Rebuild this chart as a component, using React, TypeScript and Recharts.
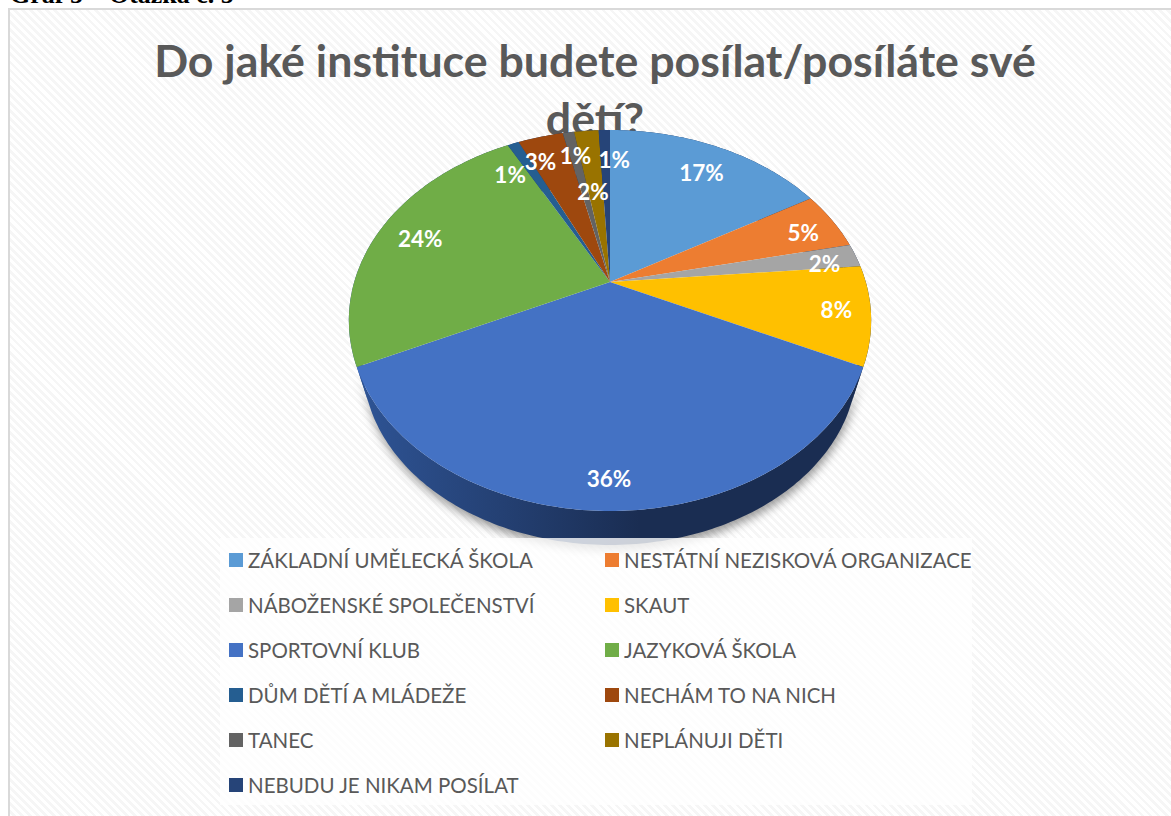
import { Legend, Pie, PieChart } from 'recharts'

const names = [
  'ZÁKLADNÍ UMĚLECKÁ ŠKOLA',
  'NESTÁTNÍ NEZISKOVÁ ORGANIZACE',
  'NÁBOŽENSKÉ SPOLEČENSTVÍ',
  'SKAUT',
  'SPORTOVNÍ KLUB',
  'JAZYKOVÁ ŠKOLA',
  'DŮM DĚTÍ A MLÁDEŽE',
  'NECHÁM TO NA NICH',
  'TANEC',
  'NEPLÁNUJI DĚTI',
  'NEBUDU JE NIKAM POSÍLAT',
]
const shares = [16.6, 5, 2, 8.4, 36, 24.2, 0.85, 3.4, 0.85, 1.85, 0.85]
const colors = ['#5B9BD5', '#ED7D31', '#A5A5A5', '#FFC000', '#4472C4', '#70AD47', '#255E91', '#9E480E', '#636363', '#997300', '#264478']

// excel moved some of the crowded labels: [radius factor, dx, dy]
const labelTweaks = [[0.8, 2, 2], [0.8, 13, 1], [0.8, 17, 3], [0.8, 19, 1], [0.88, -1, 1], [0.8, -5, 0], [0.8, -20, 7], [0.8, -12, -1], [0.8, 0, -3], [0.5, -4, -8], [0.8, 9, 3]]

const data = names.map((name, i) => ({ name, value: shares[i], fill: colors[i] }))

const cx = 610
const cy = 282
const ry = 182.7
const xStretch = 1.4
const persp = 0.202
const vanishY = 1136
const wallScale = 0.9456

// unit disc point (r, clockwise angle from top) -> screen, with the excel perspective
function project(r: number, deg: number) {
  const t = (deg * Math.PI) / 180
  const w = 1 + persp * r * Math.cos(t)
  return {
    x: cx + (ry * xStretch * r * Math.sin(t)) / w,
    y: cy - (ry * r * Math.cos(t)) / w,
  }
}

function arcPoints(startAngle: number, endAngle: number) {
  const from = 90 - startAngle
  const to = 90 - endAngle
  const steps = Math.max(2, Math.ceil(Math.abs(to - from)))
  const pts = []
  for (let i = 0; i <= steps; i++) pts.push(project(1, from + ((to - from) * i) / steps))
  return pts
}

const toPath = (pts: { x: number; y: number }[]) =>
  pts.map((p, i) => `${i ? 'L' : 'M'}${p.x.toFixed(1)} ${p.y.toFixed(1)}`).join(' ') + ' Z'

function TopSlice(props: any) {
  const pts = [{ x: cx, y: cy }, ...arcPoints(props.startAngle, props.endAngle)]
  return <path d={toPath(pts)} fill={props.fill} stroke="none" />
}

function WallSlice(props: any) {
  const top = arcPoints(props.startAngle, props.endAngle)
  const bottom = top.map((p) => ({ x: cx + (p.x - cx) * wallScale, y: vanishY + (p.y - vanishY) * wallScale }))
  const front = Math.sin((props.midAngle * Math.PI) / 180) < -0.5
  return (
    <path
      d={toPath([...top, ...bottom.reverse()])}
      fill="url(#wallFill)"
      stroke="none"
      style={front ? { filter: 'drop-shadow(1px 5px 5px rgba(0,0,0,0.4))' } : undefined}
    />
  )
}

function percentLabel(props: any) {
  const [rf, dx, dy] = labelTweaks[props.index]
  const p = project(rf, 90 - props.midAngle)
  return (
    <text
      x={p.x + dx}
      y={p.y + dy}
      fill="#fff"
      fontFamily="Lato, sans-serif"
      fontWeight={700}
      fontSize={22.5}
      textAnchor="middle"
      dominantBaseline="central"
    >
      {`${Math.round(props.percent * 100)}%`}
    </text>
  )
}

function LegendBox({ payload }: any) {
  // both pies report the same entries, one copy is enough
  const items = (payload ?? []).filter((item: any, i: number, all: any[]) => all.findIndex((o) => o.value === item.value) === i)
  return (
    <div style={{ display: 'grid', gridTemplateColumns: '376px 376px', gridAutoRows: '45px', background: 'rgba(255,255,255,0.78)', height: 267, boxSizing: 'border-box' }}>
      {items.map((item: any) => (
        <div key={item.value} style={{ display: 'flex', alignItems: 'center', paddingLeft: 9, height: 44, color: '#595959', fontFamily: 'Lato, sans-serif', fontSize: 20.5, whiteSpace: 'nowrap' }}>
          <span style={{ width: 14, height: 14, background: item.color, marginRight: 5, flex: 'none' }} />
          {item.value}
        </div>
      ))}
    </div>
  )
}

export default function App() {
  return (
    <div style={{ position: 'absolute', left: 0, top: 0, width: 1171, height: 816, overflow: 'hidden', background: '#fff' }}>
      <div style={{ position: 'absolute', left: 10, top: -20, fontFamily: 'Liberation Serif, serif', fontWeight: 700, fontSize: 26, color: '#000', whiteSpace: 'nowrap' }}>
        Graf 5 – Otázka č. 5
      </div>
      <div
        style={{
          position: 'absolute',
          left: 8,
          top: 8,
          width: 1200,
          height: 840,
          borderLeft: '2px solid #d9d9d9',
          borderTop: '2px solid #d9d9d9',
          background: 'repeating-linear-gradient(45deg, #fff 0 3px, #f6f6f6 3px 5.7px)',
        }}
      />
      <div
        style={{
          position: 'absolute',
          left: 95,
          top: 31,
          width: 1000,
          textAlign: 'center',
          fontFamily: 'Lato, sans-serif',
          fontWeight: 700,
          fontSize: 44.7,
          lineHeight: '58px',
          color: '#595959',
        }}
      >
        Do jaké instituce budete posílat/posíláte své
        <br />
        dětí?
      </div>
      <div style={{ position: 'absolute', left: 0, top: 0 }}>
        <PieChart width={1171} height={816} margin={{ top: 0, right: 0, bottom: 0, left: 0 }}>
          <defs>
            <linearGradient id="wallFill" gradientUnits="userSpaceOnUse" x1={350} x2={640} y1={0} y2={0}>
              <stop offset="0" stopColor="#2F5597" />
              <stop offset="1" stopColor="#1A2D52" />
            </linearGradient>
          </defs>
          <Pie
            data={data}
            dataKey="value"
            nameKey="name"
            cx={cx}
            cy={cy}
            outerRadius={ry}
            startAngle={90}
            endAngle={-270}
            shape={WallSlice}
            legendType="none"
            isAnimationActive={false}
          />
          <Pie
            data={data}
            dataKey="value"
            nameKey="name"
            cx={cx}
            cy={cy}
            outerRadius={ry}
            startAngle={90}
            endAngle={-270}
            shape={TopSlice}
            label={percentLabel}
            labelLine={false}
            isAnimationActive={false}
          />
          <Legend
            content={<LegendBox />}
            itemSorter={null}
            wrapperStyle={{ position: 'absolute', left: 220, top: 538, width: 752, bottom: 'auto' }}
          />
        </PieChart>
      </div>
    </div>
  )
}
